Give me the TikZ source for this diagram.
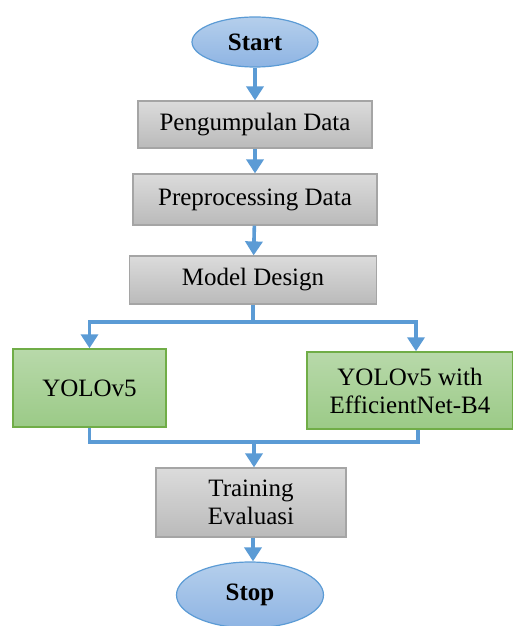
\documentclass[tikz,border=0pt]{standalone}
\usepackage{fontspec}
\setmainfont{Liberation Serif}
\usetikzlibrary{arrows.meta,shapes.geometric}

\definecolor{flowblue}{HTML}{5B9BD5}
\definecolor{boxline}{HTML}{A5A5A5}
\definecolor{greenline}{HTML}{70AD47}
\definecolor{greentop}{HTML}{B8D9AA}
\definecolor{greenbottom}{HTML}{9BCA87}
\definecolor{bluetop}{HTML}{B5CFEC}
\definecolor{bluebottom}{HTML}{8EB4E3}

\tikzset{
    procbox/.style={rectangle,draw=boxline,line width=0.6pt,top color=black!14,bottom color=black!27,
        font=\fontsize{12.5}{14}\selectfont,align=center,inner sep=0pt},
    modelbox/.style={rectangle,draw=greenline,line width=0.7pt,top color=greentop,bottom color=greenbottom,
        font=\fontsize{12.5}{14}\selectfont,align=center,inner sep=0pt},
    terminal/.style={ellipse,draw=flowblue,line width=0.6pt,top color=bluetop,bottom color=bluebottom,
        font=\bfseries\fontsize{12.5}{14}\selectfont,inner sep=0pt},
    flow/.style={draw=flowblue,line width=1.8pt}
}

\begin{document}
\begin{tikzpicture}[x=0.5pt,y=-0.5pt,>={Triangle[width=8.5pt,length=7pt]}]
    \useasboundingbox (0,0) rectangle (513,626);
    \clip (0,0) rectangle (513,626);
    \node[terminal,minimum width=63pt,minimum height=25pt] (start) at (255,42) {Start};
    \node[procbox,minimum width=117pt,minimum height=23.5pt] (collect) at (255,124.5) {Pengumpulan Data};
    \node[procbox,minimum width=122pt,minimum height=25.5pt] (prep) at (255,199.5) {Preprocessing Data};
    \node[procbox,minimum width=123.5pt,minimum height=24pt] (design) at (253,280) {Model Design};
    \node[modelbox,minimum width=76.5pt,minimum height=39pt] (yolo) at (89.5,388) {YOLOv5};
    \node[modelbox,minimum width=103pt,minimum height=38.5pt] (effnet) at (410,390.5) {YOLOv5 with\\EfficientNet-B4};
    \node[procbox,minimum width=95pt,minimum height=34.5pt] (train) at (251,502.5) {Training\\Evaluasi};
    \node[terminal,minimum width=73.5pt,minimum height=33pt] (stop) at (250,595) {Stop};

    \coordinate (split) at (253,322);
    \coordinate (join) at (254,442);

    \draw[flow,->] (start) -- (collect);
    \draw[flow,->] (collect) -- (prep);
    \draw[flow,->] (prep) -- (design);
    \draw[flow] (design) -- (split);
    \draw[flow,->] (split) -| (yolo);
    \draw[flow,->] (split) -| ([xshift=3pt]effnet.north);
    \draw[flow] (yolo) |- (join);
    \draw[flow] ([xshift=4pt]effnet.south) |- (join);
    \draw[flow,->] (join) -- (join |- train.north);
    \draw[flow,->] ([xshift=1pt]train.south) -- ([xshift=1pt]train.south |- stop.north);
\end{tikzpicture}
\end{document}
